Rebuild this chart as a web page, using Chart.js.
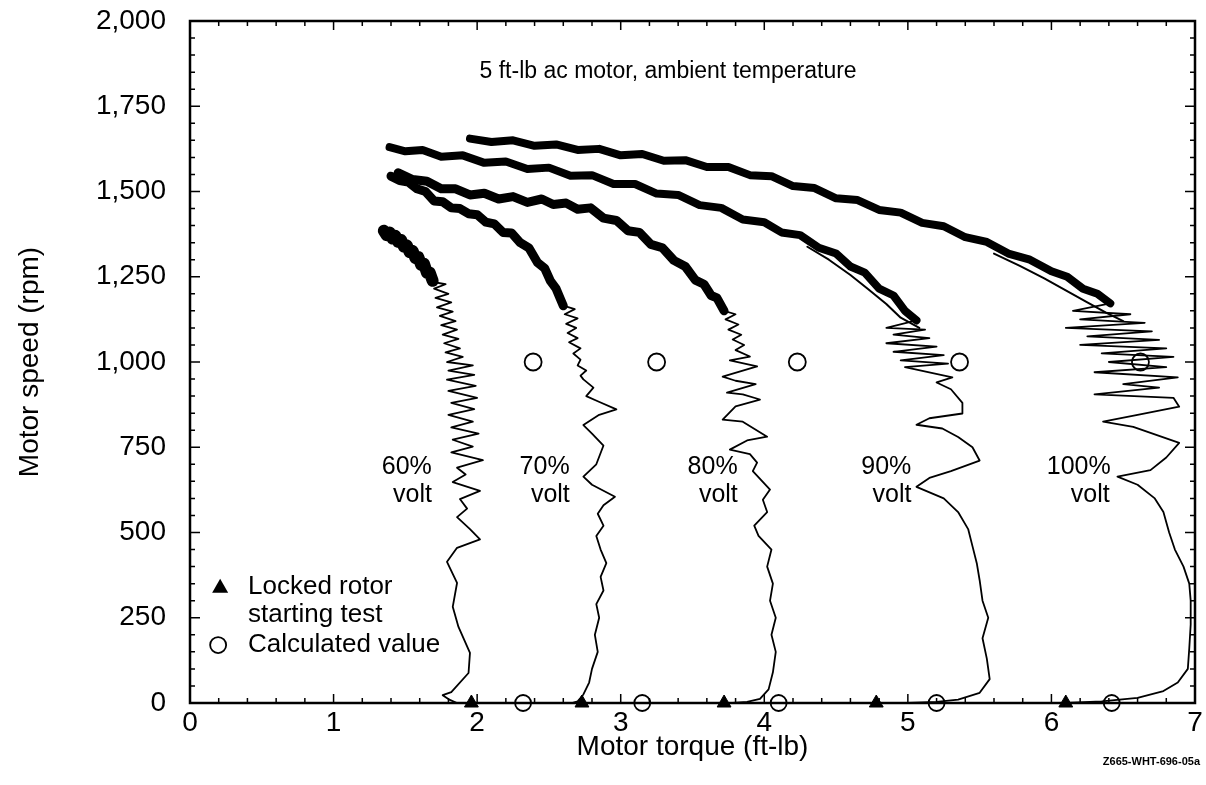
<!DOCTYPE html>
<html><head><meta charset="utf-8">
<script src="https://cdn.jsdelivr.net/npm/chart.js@4"></script>
<style>html,body{margin:0;padding:0;background:#fff;} #wrap{width:1206px;height:785px;position:relative;}</style>
</head><body><div id="wrap"><canvas id="c"></canvas></div>
<script>
const FONT = '"Liberation Sans", Arial, Helvetica, sans-serif';
const xTickLabels = ['0','1','2','3','4','5','6','7'];
const yTickLabels = ['0','250','500','750','1,000','1,250','1,500','1,750','2,000'];

// 60% volt
const band60T = [1.35,1.37,1.39,1.41,1.43,1.45,1.47,1.49,1.51,1.53,1.55,1.57,1.59,1.61,1.63,1.65,1.67,1.69];
const band60S = [1385,1372,1380,1362,1370,1352,1358,1338,1342,1322,1326,1305,1308,1285,1288,1262,1262,1238];
const tail60T = [1.69,1.78,1.70,1.80,1.71,1.82,1.72,1.83,1.74,1.85,1.75,1.86,1.76,1.87,1.77,1.88,1.78,1.90,1.79,1.97,1.80,1.98,1.79,1.99,1.80,2.00,1.82,1.98,1.80,1.97,1.82,2.01,1.83,1.97,1.82,2.04,1.86,1.92,1.83,2.02,1.88,1.93,1.86,1.95,2.02,1.86,1.79,1.86,1.83,1.87,1.95,1.94,1.82,1.76,1.81,1.86];
const tail60S = [1235,1228,1215,1200,1188,1175,1160,1148,1135,1120,1108,1095,1080,1068,1055,1040,1028,1015,1000,990,975,962,948,930,915,895,880,862,845,825,808,790,772,752,735,712,690,670,648,622,598,570,545,510,480,455,414,352,282,223,147,88,32,23,9,0];

// 70% volt
const band70T = [1.40,1.46,1.52,1.58,1.64,1.70,1.76,1.82,1.88,1.94,2.00,2.06,2.12,2.18,2.24,2.30,2.36,2.42,2.47,2.51,2.55,2.58,2.60];
const band70S = [1545,1532,1528,1508,1500,1472,1470,1452,1450,1435,1432,1410,1405,1380,1378,1350,1335,1292,1275,1238,1215,1185,1165];
const tail70T = [2.60,2.68,2.61,2.70,2.62,2.69,2.63,2.70,2.64,2.72,2.67,2.72,2.70,2.76,2.72,2.74,2.81,2.76,2.84,2.97,2.85,2.74,2.80,2.88,2.83,2.74,2.80,2.96,2.88,2.84,2.88,2.83,2.86,2.90,2.86,2.88,2.83,2.85,2.82,2.84,2.80,2.78,2.74,2.70,2.66];
const tail70S = [1165,1155,1140,1128,1112,1100,1085,1070,1058,1040,1025,1007,990,975,960,949,925,900,885,861,845,815,790,755,700,664,640,605,580,555,520,490,450,410,370,330,290,250,200,150,100,60,25,5,0];

// 80% volt
const band80T = [1.45,1.55,1.65,1.75,1.85,1.95,2.05,2.15,2.25,2.35,2.45,2.53,2.62,2.70,2.79,2.88,2.97,3.05,3.13,3.21,3.29,3.37,3.45,3.52,3.58,3.63,3.67,3.72];
const band80S = [1555,1535,1530,1508,1508,1490,1495,1478,1485,1468,1478,1462,1466,1448,1452,1422,1415,1385,1380,1345,1335,1298,1280,1240,1228,1195,1188,1150];
const tail80T = [3.72,3.80,3.73,3.82,3.75,3.84,3.78,3.86,3.80,3.90,3.76,3.95,3.71,3.80,3.94,3.74,3.85,3.97,3.80,3.71,3.85,4.02,3.88,3.76,3.90,3.95,3.92,4.04,3.99,4.02,3.93,3.96,4.05,4.02,4.06,4.04,4.08,4.05,4.08,4.06,4.03,3.97,3.88,3.78];
const tail80S = [1150,1140,1125,1110,1095,1080,1066,1050,1035,1016,1005,987,957,945,935,910,905,890,870,831,825,781,770,743,730,705,680,626,596,560,520,490,450,400,350,300,250,200,150,90,40,12,3,0];

// 90% volt
const band90T = [1.39,1.50,1.62,1.75,1.90,2.05,2.20,2.35,2.50,2.65,2.80,2.95,3.10,3.25,3.40,3.55,3.70,3.85,4.00,4.12,4.25,4.38,4.50,4.60,4.70,4.80,4.90,4.98,5.06];
const band90S = [1630,1618,1622,1602,1606,1584,1588,1566,1570,1546,1548,1522,1522,1494,1490,1460,1452,1418,1410,1380,1372,1335,1318,1280,1262,1215,1195,1150,1122];
const strand90T = [4.30,4.45,4.60,4.72,4.85,4.95,5.08];
const strand90S = [1338,1300,1255,1215,1170,1130,1100];
const tail90T = [5.06,4.85,5.12,4.90,5.15,4.85,5.20,4.90,5.25,4.95,5.28,4.98,5.31,5.20,5.30,5.38,5.38,5.15,5.06,5.24,5.35,5.45,5.50,5.30,5.15,5.06,5.25,5.35,5.42,5.45,5.48,5.50,5.52,5.56,5.52,5.55,5.57,5.50,5.35,5.20,5.00];
const tail90S = [1122,1100,1095,1080,1070,1055,1045,1030,1020,1005,995,985,955,940,920,880,849,835,816,805,780,750,711,680,660,634,600,560,510,460,410,360,300,250,190,130,70,30,10,3,0];

// 100% volt
const band100T = [1.95,2.10,2.25,2.40,2.55,2.70,2.85,3.00,3.15,3.30,3.45,3.60,3.75,3.90,4.05,4.20,4.35,4.50,4.65,4.80,4.95,5.10,5.25,5.40,5.55,5.70,5.85,6.00,6.11,6.22,6.32,6.41];
const band100S = [1655,1645,1650,1634,1638,1622,1625,1606,1610,1590,1592,1572,1572,1548,1545,1516,1510,1480,1475,1446,1438,1408,1398,1366,1352,1318,1300,1266,1250,1215,1200,1172];
const strand100T = [5.60,5.78,5.95,6.10,6.25,6.38,6.50];
const strand100S = [1318,1282,1245,1210,1175,1145,1120];
const tail100T = [6.41,6.15,6.55,6.20,6.65,6.10,6.70,6.25,6.75,6.20,6.80,6.35,6.85,6.40,6.80,6.30,6.88,6.50,6.75,6.30,6.85,6.89,6.60,6.36,6.57,6.89,6.80,6.69,6.46,6.60,6.72,6.78,6.82,6.86,6.92,6.96,6.97,6.97,6.96,6.95,6.88,6.78,6.60,6.35,6.10];
const tail100S = [1172,1150,1140,1125,1115,1100,1090,1075,1065,1050,1040,1025,1015,1000,985,970,955,935,925,905,895,869,845,825,810,763,720,683,664,640,600,560,500,450,400,350,300,230,160,100,60,35,15,5,0];

// markers
const lockedRotorT = [1.96,2.73,3.72,4.78,6.10];
const lockedRotorS = [0,0,0,0,0];
const calcLowT = [2.32,3.15,4.10,5.20,6.42];
const calcLowS = [0,0,0,0,0];
const calcHighT = [2.39,3.25,4.23,5.36,6.62];
const calcHighS = [1000,1000,1000,1000,1000];

const curveLabels = ['60%','70%','80%','90%','100%'];
const curveLabelT = [1.51,2.47,3.64,4.85,6.19];
const voltLabelT = [1.55,2.51,3.68,4.89,6.27];

function pts(t,s){ return t.map((v,i)=>({x:v,y:s[i]})); }
function line(t,s,w){ return {data:pts(t,s), showLine:true, pointRadius:0, borderColor:'#000', backgroundColor:'#000', borderWidth:w, borderJoinStyle:'round', borderCapStyle:'round', tension:0, clip:false}; }

const datasets = [
  line(band60T,band60S,12), line(tail60T,tail60S,1.8),
  line(band70T,band70S,9), line(tail70T,tail70S,1.8),
  line(band80T,band80S,9), line(tail80T,tail80S,1.8),
  line(band90T,band90S,8), line(strand90T,strand90S,2), line(tail90T,tail90S,1.8),
  line(band100T,band100S,8), line(strand100T,strand100S,2), line(tail100T,tail100S,1.8),
  {data:pts(lockedRotorT,lockedRotorS), showLine:false, pointStyle:'triangle', pointRadius:8, backgroundColor:'#000', borderColor:'#000', borderWidth:1, clip:false},
  {data:pts(calcLowT,calcLowS), showLine:false, pointStyle:'circle', pointRadius:8, backgroundColor:'rgba(0,0,0,0)', borderColor:'#000', borderWidth:1.8, clip:false},
  {data:pts(calcHighT,calcHighS), showLine:false, pointStyle:'circle', pointRadius:8.5, backgroundColor:'rgba(0,0,0,0)', borderColor:'#000', borderWidth:1.8, clip:false}
];

const deco = {
  id:'deco',
  afterDraw(chart){
    const {ctx, chartArea:a, scales:{x,y}} = chart;
    ctx.save();
    ctx.strokeStyle='#000'; ctx.lineWidth=2.5;
    ctx.strokeRect(a.left,a.top,a.right-a.left,a.bottom-a.top);
    ctx.lineWidth=1.5;
    ctx.beginPath();
    for(let i=0;i<=35;i++){
      const px=x.getPixelForValue(i*0.2); const len=(i%5===0)?9:5;
      ctx.moveTo(px,a.bottom); ctx.lineTo(px,a.bottom-len);
      ctx.moveTo(px,a.top); ctx.lineTo(px,a.top+len);
    }
    for(let i=0;i<=40;i++){
      const py=y.getPixelForValue(i*50); const len=(i%5===0)?10:5;
      ctx.moveTo(a.left,py); ctx.lineTo(a.left+len,py);
      ctx.moveTo(a.right,py); ctx.lineTo(a.right-len,py);
    }
    ctx.stroke();
    ctx.fillStyle='#000'; ctx.textBaseline='middle';
    ctx.textAlign='center';
    ctx.font='23px '+FONT;
    ctx.fillText('5 ft-lb ac motor, ambient temperature', x.getPixelForValue(3.33), y.getPixelForValue(1850));
    ctx.font='25px '+FONT;
    for(let i=0;i<curveLabels.length;i++){
      ctx.fillText(curveLabels[i], x.getPixelForValue(curveLabelT[i]), y.getPixelForValue(693));
      ctx.fillText('volt', x.getPixelForValue(voltLabelT[i]), y.getPixelForValue(611));
    }
    ctx.font='26px '+FONT; ctx.textAlign='left';
    const tx=x.getPixelForValue(0.404);
    ctx.fillText('Locked rotor', tx, y.getPixelForValue(341));
    ctx.fillText('starting test', tx, y.getPixelForValue(258));
    ctx.fillText('Calculated value', tx, y.getPixelForValue(170));
    const trx=x.getPixelForValue(0.21), tryy=y.getPixelForValue(341);
    ctx.beginPath(); ctx.moveTo(trx,tryy-8); ctx.lineTo(trx+8,tryy+6); ctx.lineTo(trx-8,tryy+6); ctx.closePath(); ctx.fill();
    ctx.lineWidth=1.8; ctx.beginPath(); ctx.arc(x.getPixelForValue(0.196), y.getPixelForValue(170), 8, 0, Math.PI*2); ctx.stroke();
    ctx.font='bold 11px '+FONT; ctx.textAlign='right';
    ctx.fillText('Z665-WHT-696-05a', 1200, 762);
    ctx.restore();
  }
};

new Chart(document.getElementById('c'), {
  type:'scatter',
  data:{datasets},
  options:{
    responsive:true, maintainAspectRatio:false, animation:false,
    layout:{padding:{left:0,right:11,top:21,bottom:0}},
    plugins:{legend:{display:false}, tooltip:{enabled:false}},
    scales:{
      x:{type:'linear', min:0, max:7,
        grid:{display:false, drawTicks:true, tickLength:3}, border:{display:false},
        ticks:{stepSize:1, padding:0, color:'#000', font:{family:FONT,size:28}, callback:(v)=> xTickLabels[v] ?? ''},
        title:{display:true, text:'Motor torque (ft-lb)', color:'#000', font:{family:FONT,size:28}, padding:{top:0,bottom:21}},
        afterFit:(s)=>{ s.height=82; }
      },
      y:{type:'linear', min:0, max:2000,
        grid:{display:false, drawTicks:true, tickLength:24}, border:{display:false},
        ticks:{stepSize:250, padding:0, color:'#000', font:{family:FONT,size:28}, callback:(v)=> yTickLabels[Math.round(v/250)] ?? ''},
        title:{display:true, text:'Motor speed (rpm)', color:'#000', font:{family:FONT,size:28}, padding:{top:13,bottom:0}},
        afterFit:(s)=>{ s.width=190; }
      }
    }
  },
  plugins:[deco]
});
</script></body></html>
